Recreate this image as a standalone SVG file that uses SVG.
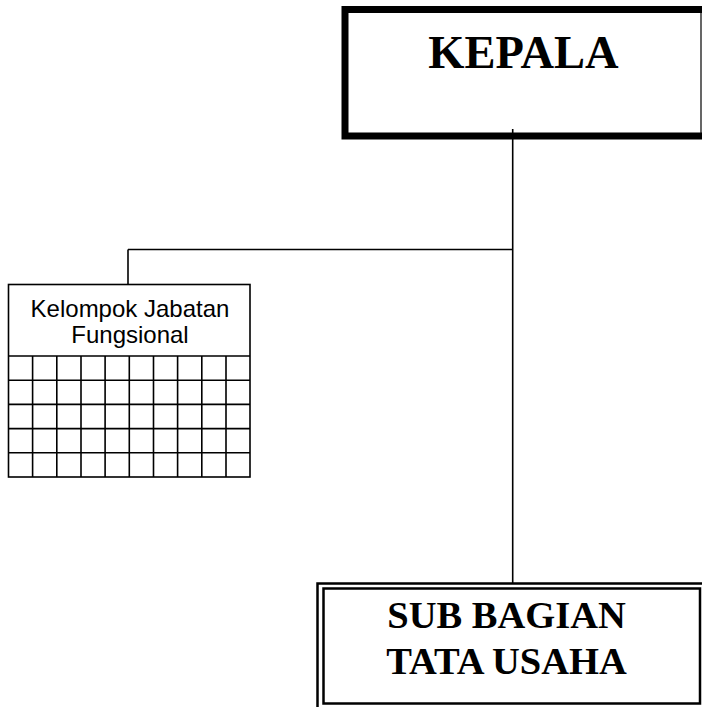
<svg xmlns="http://www.w3.org/2000/svg" width="702" height="707" viewBox="0 0 702 707">
<style>
.ln{stroke:#000;stroke-width:1.6;fill:none}
.tb{font-family:"Liberation Serif","Times New Roman",serif;font-weight:bold;fill:#000;text-anchor:middle}
.ts{font-family:"Liberation Sans",Arial,sans-serif;fill:#000;text-anchor:middle}
</style>
<rect width="702" height="707" fill="#fff"/>
<g id="connectors">
<line class="ln" x1="512.7" y1="129" x2="512.7" y2="583"/>
<line class="ln" x1="128" y1="249.5" x2="512.7" y2="249.5"/>
<line class="ln" x1="128" y1="249.5" x2="128" y2="284.5"/>
</g>
<g id="kepala">
<path d="M706 9.5 H345 V136 H706" fill="none" stroke="#000" stroke-width="7"/>
<line x1="701" y1="6" x2="701" y2="139" stroke="#000" stroke-width="1.2"/>
<text class="tb" x="523.5" y="67.5" font-size="46.5">KEPALA</text>
</g>
<g id="kelompok">
<rect class="ln" x="8.5" y="284.5" width="241.5" height="192.5" fill="#fff"/>
<text class="ts" x="130" y="317.3" font-size="24">Kelompok Jabatan</text>
<text class="ts" x="130" y="343.3" font-size="24">Fungsional</text>
<path class="ln" d="M8.5 356 H250 M8.5 380.2 H250 M8.5 404.4 H250 M8.5 428.6 H250 M8.5 452.8 H250 M32.6 356 V477 M56.8 356 V477 M81 356 V477 M105.1 356 V477 M129.3 356 V477 M153.5 356 V477 M177.6 356 V477 M201.8 356 V477 M226 356 V477"/>
</g>
<g id="sub-bagian">
<path d="M706 583.5 H317.5 V712" fill="none" stroke="#000" stroke-width="2.5"/>
<rect x="323.5" y="588.5" width="376.5" height="115" fill="none" stroke="#000" stroke-width="2.5"/>
<text class="tb" x="506.5" y="628" font-size="38.5">SUB BAGIAN</text>
<text class="tb" x="506.5" y="674" font-size="38.5">TATA USAHA</text>
</g>
</svg>
